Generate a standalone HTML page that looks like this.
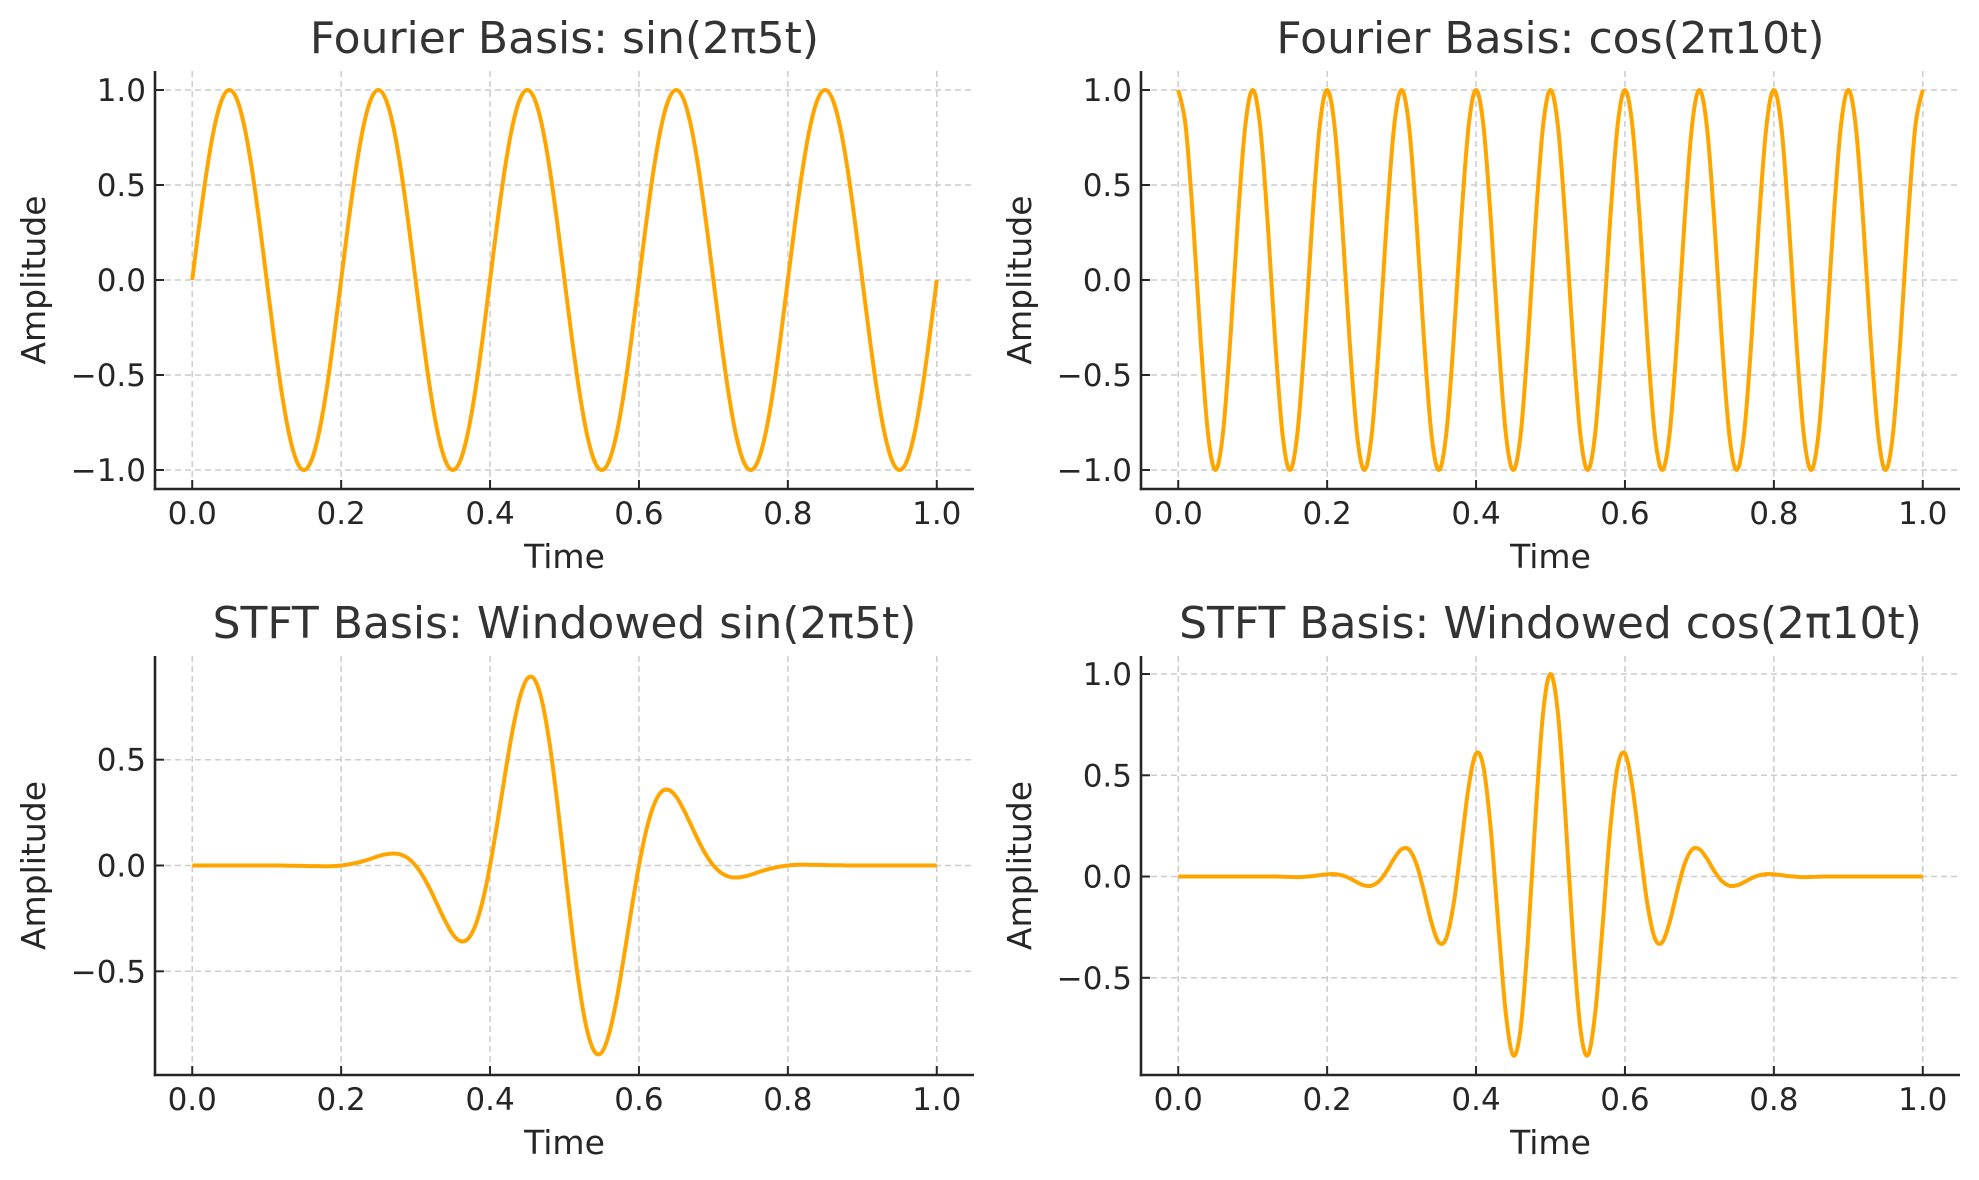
<!DOCTYPE html>
<html><head><meta charset="utf-8"><style>
html,body{margin:0;padding:0;background:#fff;}
svg{display:block;font-family:"DejaVu Sans","Liberation Sans",sans-serif;}
</style></head><body>
<svg id="fig" width="1979" height="1180" viewBox="0 0 1979 1180" xmlns="http://www.w3.org/2000/svg"></svg>
<script>
const timeSamples = [0,0.01,0.02,0.03,0.04,0.05,0.06,0.07,0.08,0.09,0.1,0.11,0.12,0.13,0.14,0.15,0.16,0.17,0.18,0.19,0.2,0.21,0.22,0.23,0.24,0.25,0.26,0.27,0.28,0.29,0.3,0.31,0.32,0.33,0.34,0.35,0.36,0.37,0.38,0.39,0.4,0.41,0.42,0.43,0.44,0.45,0.46,0.47,0.48,0.49,0.5,0.51,0.52,0.53,0.54,0.55,0.56,0.57,0.58,0.59,0.6,0.61,0.62,0.63,0.64,0.65,0.66,0.67,0.68,0.69,0.7,0.71,0.72,0.73,0.74,0.75,0.76,0.77,0.78,0.79,0.8,0.81,0.82,0.83,0.84,0.85,0.86,0.87,0.88,0.89,0.9,0.91,0.92,0.93,0.94,0.95,0.96,0.97,0.98,0.99,1];
const sin5Values = [0,.309,.588,.809,.951,1,.951,.809,.588,.309,0,-.309,-.588,-.809,-.951,-1,-.951,-.809,-.588,-.309,
0,.309,.588,.809,.951,1,.951,.809,.588,.309,0,-.309,-.588,-.809,-.951,-1,-.951,-.809,-.588,-.309,
0,.309,.588,.809,.951,1,.951,.809,.588,.309,0,-.309,-.588,-.809,-.951,-1,-.951,-.809,-.588,-.309,
0,.309,.588,.809,.951,1,.951,.809,.588,.309,0,-.309,-.588,-.809,-.951,-1,-.951,-.809,-.588,-.309,
0,.309,.588,.809,.951,1,.951,.809,.588,.309,0,-.309,-.588,-.809,-.951,-1,-.951,-.809,-.588,-.309,0];
const cos10Values = [1,.809,.309,-.309,-.809,-1,-.809,-.309,.309,.809,1,.809,.309,-.309,-.809,-1,-.809,-.309,.309,.809,
1,.809,.309,-.309,-.809,-1,-.809,-.309,.309,.809,1,.809,.309,-.309,-.809,-1,-.809,-.309,.309,.809,
1,.809,.309,-.309,-.809,-1,-.809,-.309,.309,.809,1,.809,.309,-.309,-.809,-1,-.809,-.309,.309,.809,
1,.809,.309,-.309,-.809,-1,-.809,-.309,.309,.809,1,.809,.309,-.309,-.809,-1,-.809,-.309,.309,.809,
1,.809,.309,-.309,-.809,-1,-.809,-.309,.309,.809,1,.809,.309,-.309,-.809,-1,-.809,-.309,.309,.809,1];
const winSinValues = [0,0,0,0,0,0,0,0,0,0,0,0,
0,-.001,-.001,-.002,-.003,-.003,-.004,-.003,0,.005,.012,.021,.032,.044,.053,.057,.052,.034,0,-.051,-.116,-.191,-.264,-.325,-.357,-.348,-.286,-.169,0,.206,.427,.633,.794,.883,.878,.773,.576,.307,
0,
-.307,-.576,-.773,-.878,-.883,-.794,-.633,-.427,-.206,0,.169,.286,.348,.357,.325,.264,.191,.116,.051,0,-.034,-.052,-.057,-.053,-.044,-.032,-.021,-.012,-.005,0,.003,.004,.003,.003,.002,.001,.001,0,
0,0,0,0,0,0,0,0,0,0,0,0];
const winCosValues = [0,0,0,0,0,0,0,0,0,0,0,0,0,0,
-.001,-.002,-.003,-.001,.002,.007,.011,.012,.006,-.008,-.028,-.044,-.045,-.022,.027,.089,.135,.133,.061,-.073,-.225,-.325,-.304,-.133,.150,.442,.607,.540,.224,-.242,-.676,-.883,-.747,-.295,.303,.805,
1,
.805,.303,-.295,-.747,-.883,-.676,-.242,.224,.540,.607,.442,.150,-.133,-.304,-.325,-.225,-.073,.061,.133,.135,.089,.027,-.022,-.045,-.044,-.028,-.008,.006,.012,.011,.007,.002,-.001,-.003,-.002,-.001,
0,0,0,0,0,0,0,0,0,0,0,0,0,0];
const xTickValues = [0,0.2,0.4,0.6,0.8,1.0];
const xTickLabels = ["0.0","0.2","0.4","0.6","0.8","1.0"];
const yTicksFourier = [1.0,0.5,0.0,-0.5,-1.0];
const yTicksWinSin = [0.5,0.0,-0.5];
const yTicksWinCos = [1.0,0.5,0.0,-0.5];
const panelTitles = ["Fourier Basis: sin(2π5t)","Fourier Basis: cos(2π10t)","STFT Basis: Windowed sin(2π5t)","STFT Basis: Windowed cos(2π10t)"];

const NS="http://www.w3.org/2000/svg";
const svg=document.getElementById('fig');
function mk(tag,attrs,parent){const e=document.createElementNS(NS,tag);for(const k in attrs)e.setAttribute(k,attrs[k]);(parent||svg).appendChild(e);return e;}
function fmt(v){return (v<0?"\u2212":"")+Math.abs(v).toFixed(1);}

const panels=[
 {key:"sin5",title:panelTitles[0],left:155,right:974,top:71,bottom:489,ymin:-1.1,ymax:1.1,vals:sin5Values,yt:yTicksFourier},
 {key:"cos10",title:panelTitles[1],left:1141,right:1960,top:71,bottom:489,ymin:-1.1,ymax:1.1,vals:cos10Values,yt:yTicksFourier},
 {key:"win-sin5",title:panelTitles[2],left:155,right:974,top:656,bottom:1075,ymin:-0.99,ymax:0.99,vals:winSinValues,yt:yTicksWinSin},
 {key:"win-cos10",title:panelTitles[3],left:1141,right:1960,top:656,bottom:1075,ymin:-0.98,ymax:1.089,vals:winCosValues,yt:yTicksWinCos}
];

panels.forEach(p=>{
  const g=mk('g',{});
  
  
  const xs=v=>p.left+(v+0.05)/1.1*(p.right-p.left);
  const ys=v=>p.bottom-(v-p.ymin)/(p.ymax-p.ymin)*(p.bottom-p.top);
  const cx=(p.left+p.right)/2;
  xTickValues.forEach(v=>{
    const l=mk('line',{x1:xs(v),x2:xs(v),y1:p.top,y2:p.bottom,stroke:'#cccccc','stroke-width':1.5,'stroke-dasharray':'6,4'},g);
    
    
  });
  p.yt.forEach(v=>{
    const l=mk('line',{x1:p.left,x2:p.right,y1:ys(v),y2:ys(v),stroke:'#cccccc','stroke-width':1.5,'stroke-dasharray':'6,4'},g);
    
    
  });
  const pts=timeSamples.map((t,i)=>[xs(t),ys(p.vals[i])]);
  let d='M'+pts[0][0].toFixed(2)+','+pts[0][1].toFixed(2);
  for(let i=0;i<pts.length-1;i++){
    const p0=pts[Math.max(0,i-1)],p1=pts[i],p2=pts[i+1],p3=pts[Math.min(pts.length-1,i+2)];
    const c1x=p1[0]+(p2[0]-p0[0])/6,c1y=p1[1]+(p2[1]-p0[1])/6;
    const c2x=p2[0]-(p3[0]-p1[0])/6,c2y=p2[1]-(p3[1]-p1[1])/6;
    d+=' C'+c1x.toFixed(2)+','+c1y.toFixed(2)+' '+c2x.toFixed(2)+','+c2y.toFixed(2)+' '+p2[0].toFixed(2)+','+p2[1].toFixed(2);
  }
  const path=mk('path',{d:d,fill:'none',stroke:'#ffa500','stroke-width':4,'stroke-linejoin':'round'},g);
  
  
  const sl=mk('line',{x1:p.left,x2:p.left,y1:p.top,y2:p.bottom+1.3,stroke:'#262626','stroke-width':2.6},g);
  
  
  const sb=mk('line',{x1:p.left-1.3,x2:p.right,y1:p.bottom,y2:p.bottom,stroke:'#262626','stroke-width':2.6},g);
  
  
  xTickValues.forEach((v,i)=>{
    const t=mk('line',{x1:xs(v),x2:xs(v),y1:p.bottom,y2:p.bottom-9,stroke:'#262626','stroke-width':2},g);
    
    
    const tx=mk('text',{x:xs(v),y:p.bottom+35,'text-anchor':'middle','font-size':31,fill:'#262626'},g);
    tx.textContent=xTickLabels[i];
    
    
  });
  p.yt.forEach(v=>{
    const t=mk('line',{x1:p.left,x2:p.left+9,y1:ys(v),y2:ys(v),stroke:'#262626','stroke-width':2},g);
    
    
    const tx=mk('text',{x:p.left-9,y:ys(v)+11,'text-anchor':'end','font-size':31,fill:'#262626'},g);
    tx.textContent=fmt(v);
    
    
  });
  const xl=mk('text',{x:cx,y:p.bottom+79,'text-anchor':'middle','font-size':33,fill:'#262626'},g);
  xl.textContent='Time';
  
  
  const ymid=(p.top+p.bottom)/2, axx=p.left-110;
  const yl=mk('text',{x:axx,y:ymid,'text-anchor':'middle','font-size':33,fill:'#262626',transform:'rotate(-90 '+axx+' '+ymid+')'},g);
  yl.textContent='Amplitude';
  
  
  const tt=mk('text',{x:cx,y:p.top-18,'text-anchor':'middle','font-size':44,fill:'#333333'},g);
  tt.textContent=p.title;
  
  
});
</script>
</body></html>
